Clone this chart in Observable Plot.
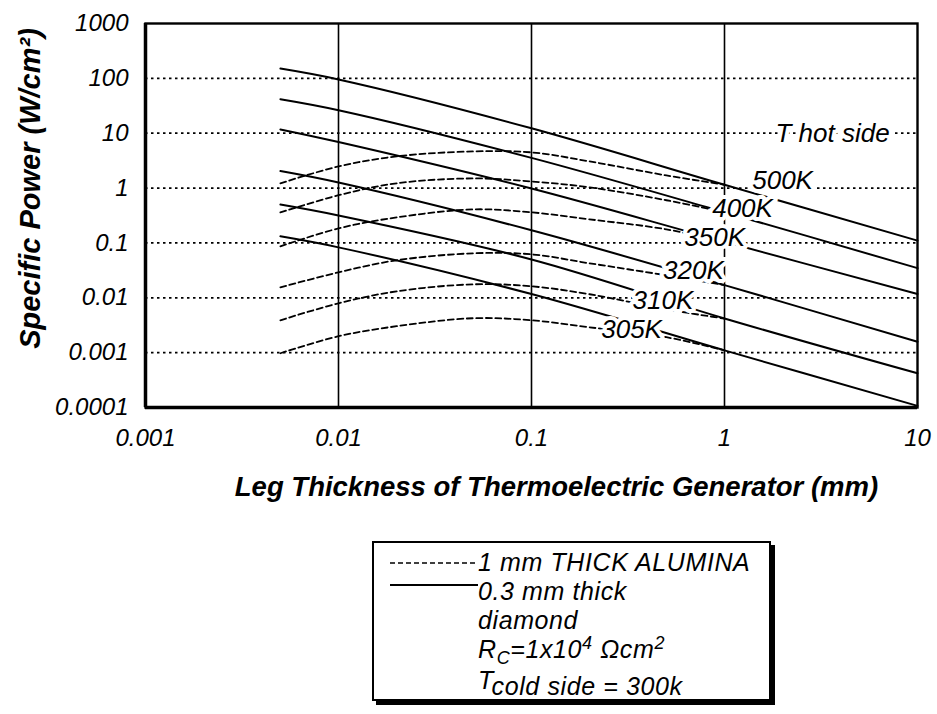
<!DOCTYPE html>
<html>
<head>
<meta charset="utf-8">
<script src="https://cdn.jsdelivr.net/npm/d3@7"></script>
<script src="https://cdn.jsdelivr.net/npm/@observablehq/plot@0.6"></script>
<style>
  html, body { margin: 0; padding: 0; background: #fff; }
  #wrap { position: relative; width: 937px; height: 714px; }
  #legend {
    position: absolute; left: 372px; top: 541px; width: 395px; height: 156px;
    border: 2px solid #000; box-shadow: 4px 4px 0 #000; background: #fff;
    font-family: 'Liberation Sans', Arial, sans-serif; font-style: italic; font-size: 25px;
    letter-spacing: 0.6px; color: #000;
  }
  #legend .row { position: absolute; left: 104px; white-space: nowrap; line-height: 29px; }
  #legend svg { position: absolute; left: 16px; }
  sub, sup { font-size: 0.72em; line-height: 0; }
</style>
</head>
<body>
<div id="wrap">
  <div id="chart"></div>
  <div id="legend">
    <svg width="90" height="10" style="top:15px"><line x1="0" x2="88" y1="5" y2="5" stroke="#000" stroke-width="1.6" stroke-dasharray="5,3"/></svg>
    <div class="row" style="top:5px">1 mm THICK ALUMINA</div>
    <svg width="90" height="10" style="top:37px"><line x1="0" x2="88" y1="5" y2="5" stroke="#000" stroke-width="1.8"/></svg>
    <div class="row" style="top:34px">0.3 mm thick</div>
    <div class="row" style="top:63px">diamond</div>
    <div class="row" style="top:92px">R<sub>C</sub>=1x10<sup>4</sup> Ωcm<sup>2</sup></div>
    <div class="row" style="top:123px">T<span style="position:relative;top:6px">cold side = 300k</span></div>
  </div>
</div>
<script>
// ---- data ----
const temps = ["500K", "400K", "350K", "320K", "310K", "305K"];

// 0.3 mm thick diamond (solid lines)
const xSolid = [0.005, 0.01, 0.1, 1, 10];
const solid500 = [151, 95.5, 12.3, 1.15, 0.11];
const solid400 = [41.7, 26.3, 3.55, 0.363, 0.0347];
const solid350 = [11.7, 6.9, 0.98, 0.105, 0.0117];
const solid320 = [2.04, 1.26, 0.17, 0.017, 0.00158];
const solid310 = [0.50, 0.316, 0.050, 0.0042, 0.00042];
const solid305 = [0.132, 0.083, 0.0117, 0.0011, 0.000107];

// 1 mm thick alumina (dashed lines)
const xDashed = [0.005, 0.01, 0.02, 0.05, 0.1, 0.2, 0.5, 1];
const dashed500 = [1.22, 2.48, 3.78, 4.66, 4.47, 3.06, 1.70, 1.15];
const dashed400 = [0.36, 0.74, 1.22, 1.50, 1.32, 1.03, 0.60, 0.363];
const dashed350 = [0.0867, 0.184, 0.292, 0.409, 0.361, 0.269, 0.177, 0.105];
const dashed320 = [0.0155, 0.0291, 0.0482, 0.0647, 0.0619, 0.0425, 0.0257, 0.017];
const dashed310 = [0.00389, 0.00794, 0.0131, 0.0176, 0.0162, 0.0116, 0.00618, 0.00417];
const dashed305 = [0.000975, 0.00199, 0.00303, 0.00424, 0.00389, 0.0029, 0.00191, 0.0011];

// curve labels
const labelText = ["T hot side", "500K", "400K", "350K", "320K", "310K", "305K"];
const labelX = [3.63, 2.0, 1.24, 0.89, 0.69, 0.48, 0.33];
const labelY = [10, 1.38, 0.43, 0.126, 0.0316, 0.009, 0.0026];

// axes
const xTicks = [0.001, 0.01, 0.1, 1, 10];
const xTickLabels = ["0.001", "0.01", "0.1", "1", "10"];
const yTicks = [0.0001, 0.001, 0.01, 0.1, 1, 10, 100, 1000];
const yTickLabels = ["0.0001", "0.001", "0.01", "0.1", "1", "10", "100", "1000"];
const xGrid = [0.01, 0.1, 1];
const yGrid = [0.001, 0.01, 0.1, 1, 10, 100];
const xTitle = "Leg Thickness of Thermoelectric Generator (mm)";
const yTitle = "Specific Power (W/cm²)";

// ---- build tables ----
const solidSeries = [solid500, solid400, solid350, solid320, solid310, solid305];
const dashedSeries = [dashed500, dashed400, dashed350, dashed320, dashed310, dashed305];
const solidRows = [];
solidSeries.forEach((vals, i) => vals.forEach((v, j) => solidRows.push({t: temps[i], x: xSolid[j], y: v})));
const dashedRows = [];
dashedSeries.forEach((vals, i) => vals.forEach((v, j) => dashedRows.push({t: temps[i], x: xDashed[j], y: v})));
const labels = labelText.map((t, i) => ({t, x: labelX[i], y: labelY[i]}));

const plot = Plot.plot({
  width: 937,
  height: 510,
  marginLeft: 145,
  marginRight: 20,
  marginTop: 23,
  marginBottom: 103,
  style: {fontFamily: "'Liberation Sans', Arial, sans-serif", fontStyle: "italic", background: "#fff", color: "#000"},
  x: {type: "log", domain: [xTicks[0], xTicks[xTicks.length - 1]]},
  y: {type: "log", domain: [yTicks[0], yTicks[yTicks.length - 1]]},
  marks: [
    Plot.ruleY(yGrid, {stroke: "#000", strokeWidth: 1.7, strokeDasharray: "2.5,3.5"}),
    Plot.ruleX(xGrid, {stroke: "#000", strokeWidth: 1.6}),
    Plot.line(dashedRows, {x: "x", y: "y", z: "t", stroke: "#000", strokeWidth: 1.8, strokeDasharray: "6,3.5", curve: "catmull-rom"}),
    Plot.line(solidRows, {x: "x", y: "y", z: "t", stroke: "#000", strokeWidth: 2, curve: "catmull-rom"}),
    Plot.text(labels, {x: "x", y: "y", text: "t", fontSize: 26, fill: "#000", stroke: "#fff", strokeWidth: 8, paintOrder: "stroke"}),
    Plot.frame({stroke: "#000", strokeWidth: 2.4}),
    Plot.ruleX([xTicks[0]], {stroke: "#000", strokeWidth: 3.5}),
    Plot.ruleY([yTicks[0]], {stroke: "#000", strokeWidth: 3.5}),
    Plot.axisX({ticks: xTicks, tickFormat: d => xTickLabels[xTicks.indexOf(d)], tickSize: 0, tickPadding: 21, fontSize: 24, label: null}),
    Plot.axisY({ticks: yTicks, tickFormat: d => yTickLabels[yTicks.indexOf(d)], tickSize: 0, tickPadding: 17, fontSize: 24, label: null}),
    Plot.text([xTitle], {frameAnchor: "bottom", textAnchor: "middle", lineAnchor: "middle", dx: 25, dy: 80, fontSize: 27.5, fontWeight: "bold", fill: "#000"}),
    Plot.text([yTitle], {frameAnchor: "left", textAnchor: "middle", lineAnchor: "middle", dx: -115, dy: -27, rotate: -90, fontSize: 29, fontWeight: "bold", fill: "#000"})
  ]
});
document.getElementById("chart").append(plot);
</script>
</body>
</html>
